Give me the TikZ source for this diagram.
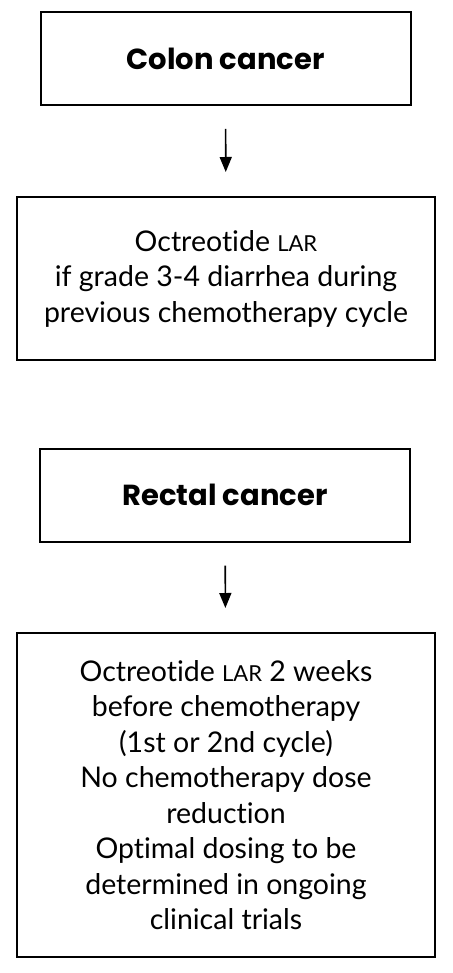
\documentclass[tikz,border=0pt]{standalone}
\usepackage{fontspec}
\setmainfont{Lato}[Ligatures=NoCommon]
\newfontfamily\headfont{Poppins}
\usetikzlibrary{positioning, arrows.meta}
\tikzstyle{arrow} = [line width=1.6pt,-{Triangle[width=12pt,length=15pt]},shorten <=23pt,shorten >=24pt]
\tikzstyle{headbox} = [draw,line width=2pt,minimum width=370pt,minimum height=93pt,font=\headfont\bfseries\fontsize{29}{33}\selectfont]
\tikzstyle{textbox} = [draw,line width=2pt,minimum width=418pt,align=center,font=\fontsize{28.5}{35.5}\selectfont]
\newcommand{\lar}{{\fontsize{22}{35}\selectfont LAR}}

\begin{document}
\begin{tikzpicture}[x=1pt,y=-1pt]
        \useasboundingbox (0,0) rectangle (452,973);
        \node[headbox] (colon) at (225.5, 58.5) {Colon cancer};
        \node[textbox, minimum height=163pt] (colonrx) at (226, 278.5) {Octreotide \lar\\if grade 3-4 diarrhea during\\previous chemotherapy cycle};
        \draw[arrow] (colon) -- (colonrx);
        \node[headbox] (rectal) at (225, 495) {Rectal cancer};
        \node[textbox, minimum height=324pt] (rectalrx) at (226, 795) {Octreotide \lar{} 2 weeks\\before chemotherapy\\(1st or 2nd cycle)\\No chemotherapy dose\\reduction\\Optimal dosing to be\\determined in ongoing\\clinical trials};
        \draw[arrow] (rectal) -- (rectalrx);
        \end{tikzpicture}
\end{document}
